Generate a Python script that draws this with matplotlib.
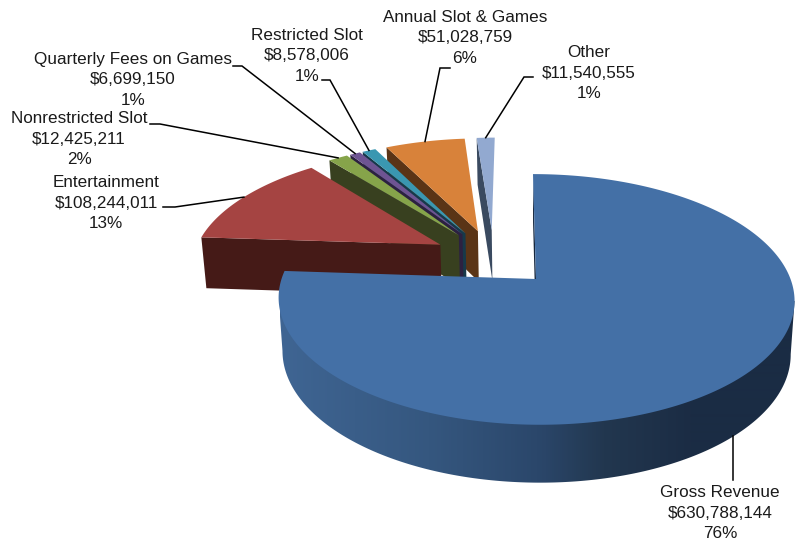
import numpy as np
import matplotlib
matplotlib.use("Agg")
import matplotlib.pyplot as plt
from matplotlib.patches import Polygon
from matplotlib.colors import LinearSegmentedColormap

plt.rcParams['font.family'] = ['Liberation Sans', 'DejaVu Sans']

# Revenue breakdown, clockwise from twelve o'clock
names = ["Gross Revenue", "Entertainment", "Nonrestricted Slot",
         "Quarterly Fees on Games", "Restricted Slot",
         "Annual Slot & Games", "Other"]
amounts = [630788144, 108244011, 12425211, 6699150, 8578006, 51028759, 11540555]
percents = ["76%", "13%", "2%", "1%", "1%", "6%", "1%"]

top_colors = ["#4470a6", "#a54442", "#86a44a", "#6e5492", "#3a97b1", "#d8823a", "#92a9d0"]
wall_colors = ["#15263d", "#451a17", "#38401f", "#2c2140", "#17394a", "#5a3416", "#3a4a60"]

label_centers = [(720, 513), (106, 203), (79, 139), (133, 80), (307, 56), (465, 38), (589, 73)]
leader_starts = [[],
                 [(163, 207), (175, 207)],
                 [(150, 124), (160, 124)],
                 [(233, 66), (242, 66)],
                 [(322, 80), (330, 80)],
                 [(450, 68), (440, 68)],
                 [(533, 77), (524, 77)]]

# Perspective camera for the pie plane
CX, CY = 536.0, 279.0
SCALE_X, SCALE_Y, SKEW, PERSP = 254.5, 122.0, -3.5, 0.163
DEPTH, DEPTH_POWER = 52.5, 0.55
TAPER_X_CENTER, TAPER = 537.0, 0.015
EXPLODE = 0.248


def project(u, v, lower=False):
    den = 1 + PERSP * v
    sx = CX + (SCALE_X * u + SKEW * v) / den
    sy = CY - SCALE_Y * v / den
    if lower:
        sx = sx + (TAPER_X_CENTER - sx) * TAPER
        sy = sy + DEPTH / den ** DEPTH_POWER
    return sx, sy


fractions = np.array(amounts, dtype=float) / np.sum(amounts)
edges = np.concatenate([[0.0], np.cumsum(fractions)]) * 2 * np.pi
mids = (edges[:-1] + edges[1:]) / 2

# Every slice is pulled out along its own bisector; the plane origin sits on the first slice's apex
ref = np.array([np.sin(mids[0]), np.cos(mids[0])])
apexes = [EXPLODE * (np.array([np.sin(m), np.cos(m)]) - ref) for m in mids]

fig = plt.figure(figsize=(7.95, 5.40), dpi=100)
ax = fig.add_axes([0, 0, 1, 1])

side_shade = LinearSegmentedColormap.from_list(
    "side", [(0.0, "#3f6593"), (0.29, "#35577f"), (0.5, "#2b476b"),
             (0.63, "#22374f"), (0.8, "#1b2c44"), (1.0, "#1a2c44")])

zorder = 2
for i in [6, 5, 4, 3, 2, 1, 0]:
    a0, a1 = edges[i], edges[i + 1]
    au, av = apexes[i]
    theta = np.linspace(a0, a1, max(16, int((a1 - a0) * 120)))
    us = au + np.sin(theta)
    vs = av + np.cos(theta)
    tx, ty = project(us, vs)
    bx, by = project(us, vs, lower=True)
    ax_top, ay_top = project(au, av)
    ax_low, ay_low = project(au, av, lower=True)

    # The radial wall at the leading cut edge is the only one facing the viewer
    wall = [(ax_top, ay_top), (tx[0], ty[0]), (bx[0], by[0]), (ax_low, ay_low)]
    ax.fill(*zip(*wall), color=wall_colors[i], lw=0, zorder=zorder)
    zorder += 1

    # Only the large slice shows its rim: a horizontal gradient clipped to the silhouette
    # running from the widest point of the upper arc around the lower arc and back
    if i == 0:
        right_top, left_top = np.argmax(tx), np.argmin(tx)
        right_low, left_low = np.argmax(bx), np.argmin(bx)
        band = np.vstack([[tx[right_top], ty[right_top]],
                          np.column_stack([bx[right_low:left_low + 1], by[right_low:left_low + 1]]),
                          [tx[left_top], ty[left_top]]])
        clip = Polygon(band, closed=True, transform=ax.transData, facecolor="none", edgecolor="none")
        ax.add_patch(clip)
        gradient = np.linspace(0, 1, 515).reshape(1, -1)
        image = ax.imshow(gradient, cmap=side_shade, aspect="auto", extent=(280, 795, 540, 0),
                          interpolation="bilinear", zorder=zorder)
        image.set_clip_path(clip)
        zorder += 1

    ax.fill(np.r_[ax_top, tx], np.r_[ay_top, ty], color=top_colors[i], lw=0, zorder=zorder)
    zorder += 1

# Labels and leader lines ending on the middle of each slice's arc
for i, name in enumerate(names):
    cx, cy = label_centers[i]
    text = f"{name}\n${amounts[i]:,}\n{percents[i]}"
    ax.text(cx, cy, text, ha="center", va="center", fontsize=12.3, color="#1a1a1a",
            linespacing=1.42, zorder=60)
    u = apexes[i][0] + np.sin(mids[i])
    v = apexes[i][1] + np.cos(mids[i])
    end = project(u, v, lower=(i == 0))
    path = leader_starts[i] + [end] if i else [(end[0], 480), end]
    ax.plot(*zip(*path), color="black", lw=1.1, solid_joinstyle="miter", zorder=50)

ax.set_xlim(0, 795)
ax.set_ylim(540, 0)
ax.axis("off")

fig.savefig("out.png", dpi=100, facecolor="white")
